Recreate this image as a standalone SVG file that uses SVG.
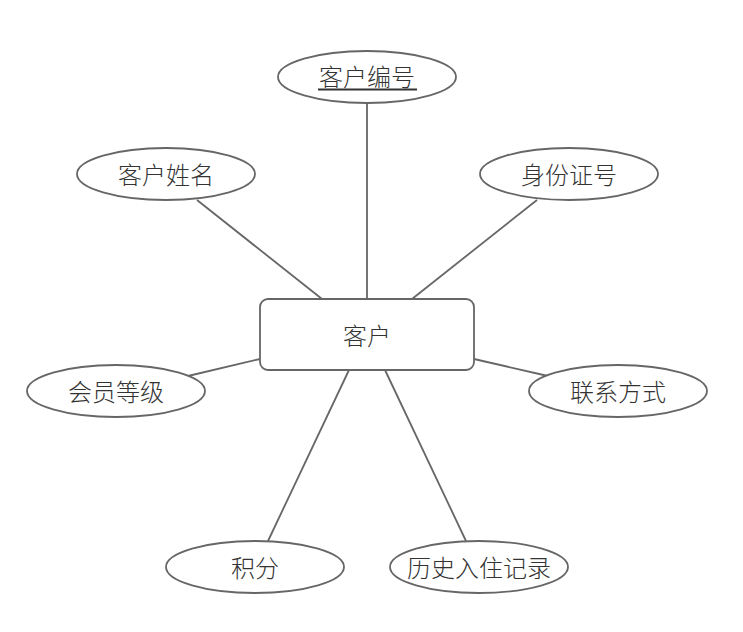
<svg xmlns="http://www.w3.org/2000/svg" width="743" height="632" viewBox="0 0 743 632">
<style>
.e{fill:#fff;stroke:#666;stroke-width:1.8}
.t{font-family:"Noto Sans CJK SC","Noto Sans",sans-serif;font-size:24px;fill:#333;text-anchor:middle;dominant-baseline:central;font-weight:300}
.c line{stroke:#666;stroke-width:1.8}
</style>
<rect width="743" height="632" fill="#fff"/>
<g class="c" id="connectors">
<line x1="367" y1="103" x2="367" y2="299"/>
<line x1="197" y1="200" x2="322" y2="299"/>
<line x1="537" y1="200" x2="412" y2="299"/>
<line x1="188" y1="376" x2="260" y2="359"/>
<line x1="474" y1="359" x2="548" y2="376"/>
<line x1="268" y1="541" x2="349" y2="370"/>
<line x1="466" y1="541" x2="385" y2="370"/>
</g>
<g id="customer"><rect class="e" x="260" y="299" width="214" height="71" rx="8"/><text class="t" x="367" y="334">客户</text></g>
<g id="id"><ellipse class="e" cx="367" cy="77" rx="89" ry="26"/><text class="t" x="367" y="75">客户编号</text><line x1="318" y1="89.5" x2="417" y2="89.5" stroke="#333" stroke-width="2"/></g>
<g id="name"><ellipse class="e" cx="166" cy="174" rx="89" ry="26"/><text class="t" x="166" y="173">客户姓名</text></g>
<g id="idcard"><ellipse class="e" cx="569" cy="174" rx="89" ry="26"/><text class="t" x="569" y="173">身份证号</text></g>
<g id="level"><ellipse class="e" cx="116" cy="391" rx="89" ry="26"/><text class="t" x="116" y="390">会员等级</text></g>
<g id="contact"><ellipse class="e" cx="618" cy="391" rx="89" ry="26"/><text class="t" x="618" y="390">联系方式</text></g>
<g id="points"><ellipse class="e" cx="255" cy="567" rx="89" ry="26"/><text class="t" x="255" y="566">积分</text></g>
<g id="history"><ellipse class="e" cx="479" cy="567" rx="89" ry="26"/><text class="t" x="479" y="566">历史入住记录</text></g>
</svg>
